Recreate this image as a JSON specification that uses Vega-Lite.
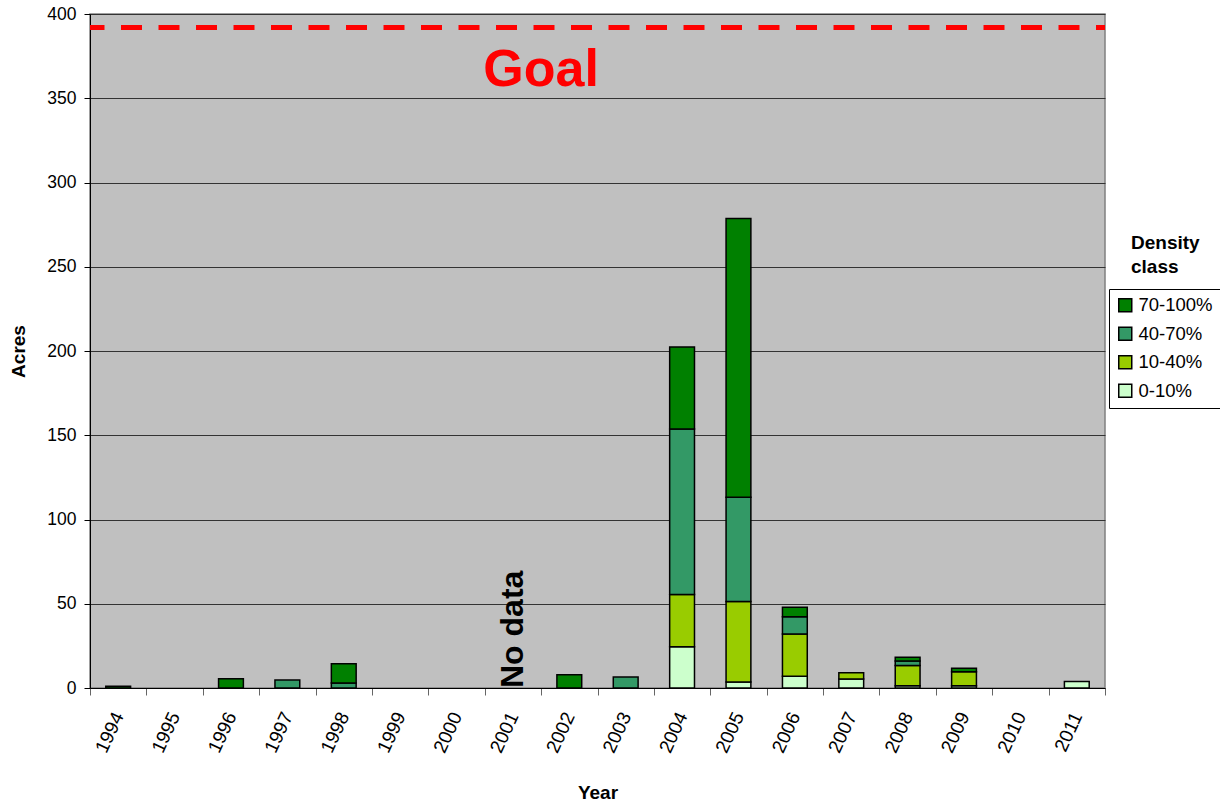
{
  "$schema": "https://vega.github.io/schema/vega-lite/v6.json",
  "width": 1015,
  "height": 674,
  "autosize": {"type": "none"},
  "padding": {"left": 90, "top": 14, "right": 115, "bottom": 117},
  "background": "white",
  "config": {
    "font": "Liberation Sans",
    "view": {"fill": "#C0C0C0", "stroke": "#808080", "strokeWidth": 1.5}
  },
  "title": {
    "text": ["Density", "class"],
    "orient": "top",
    "anchor": "end",
    "frame": "group",
    "align": "left",
    "baseline": "top",
    "dx": 26,
    "dy": 272,
    "offset": 0,
    "fontSize": 19,
    "fontWeight": "bold",
    "lineHeight": 24,
    "color": "black"
  },
  "layer": [
    {
      "data": {
        "values": [
          {"year": "1994", "class": "70-100%", "acres": 1},
          {"year": "1996", "class": "70-100%", "acres": 5.5},
          {"year": "1997", "class": "40-70%", "acres": 4.7},
          {"year": "1998", "class": "40-70%", "acres": 3},
          {"year": "1998", "class": "70-100%", "acres": 11.4},
          {"year": "2002", "class": "70-100%", "acres": 7.8},
          {"year": "2003", "class": "40-70%", "acres": 6.5},
          {"year": "2004", "class": "0-10%", "acres": 24.5},
          {"year": "2004", "class": "10-40%", "acres": 31},
          {"year": "2004", "class": "40-70%", "acres": 98.2},
          {"year": "2004", "class": "70-100%", "acres": 48.7},
          {"year": "2005", "class": "0-10%", "acres": 3.6},
          {"year": "2005", "class": "10-40%", "acres": 47.8},
          {"year": "2005", "class": "40-70%", "acres": 61.8},
          {"year": "2005", "class": "70-100%", "acres": 165.5},
          {"year": "2006", "class": "0-10%", "acres": 7},
          {"year": "2006", "class": "10-40%", "acres": 25},
          {"year": "2006", "class": "40-70%", "acres": 10.3},
          {"year": "2006", "class": "70-100%", "acres": 5.6},
          {"year": "2007", "class": "0-10%", "acres": 5.3},
          {"year": "2007", "class": "10-40%", "acres": 3.8},
          {"year": "2008", "class": "0-10%", "acres": 1.4},
          {"year": "2008", "class": "10-40%", "acres": 11.9},
          {"year": "2008", "class": "40-70%", "acres": 2.7},
          {"year": "2008", "class": "70-100%", "acres": 2.2},
          {"year": "2009", "class": "0-10%", "acres": 1.4},
          {"year": "2009", "class": "10-40%", "acres": 8.3},
          {"year": "2009", "class": "70-100%", "acres": 2},
          {"year": "2011", "class": "0-10%", "acres": 3.8}
        ]
      },
      "mark": {"type": "bar", "stroke": "black", "strokeWidth": 1.5, "width": {"band": 0.44}},
      "encoding": {
        "x": {
          "field": "year",
          "type": "nominal",
          "title": "Year",
          "scale": {
            "domain": ["1994", "1995", "1996", "1997", "1998", "1999", "2000", "2001", "2002", "2003", "2004", "2005", "2006", "2007", "2008", "2009", "2010", "2011"],
            "paddingInner": 0,
            "paddingOuter": 0
          },
          "axis": {
            "grid": false,
            "tickBand": "extent",
            "tickSize": 7,
            "tickColor": "#666666",
            "domainColor": "black",
            "domainWidth": 1,
            "labelAngle": -65,
            "labelAlign": "right",
            "labelBaseline": "middle",
            "labelFontSize": 19,
            "labelColor": "black",
            "labelPadding": 18,
            "titleFontSize": 19,
            "titleFontWeight": "bold",
            "titleColor": "black",
            "titlePadding": 28
          }
        },
        "y": {
          "field": "acres",
          "type": "quantitative",
          "stack": "zero",
          "title": "Acres",
          "scale": {"domain": [0, 400]},
          "axis": {
            "values": [0, 50, 100, 150, 200, 250, 300, 350, 400],
            "grid": true,
            "gridColor": "#333333",
            "gridWidth": 1,
            "domainColor": "black",
            "tickColor": "black",
            "tickSize": 6,
            "labelFontSize": 17.5,
            "labelColor": "black",
            "labelPadding": 8,
            "titleFontSize": 19,
            "titleFontWeight": "bold",
            "titleColor": "black",
            "titlePadding": 18
          }
        },
        "color": {
          "field": "class",
          "type": "nominal",
          "scale": {
            "domain": ["70-100%", "40-70%", "10-40%", "0-10%"],
            "range": ["#008000", "#339966", "#99CC00", "#CCFFCC"]
          },
          "legend": {
            "title": null,
            "orient": "none",
            "legendX": 1019,
            "legendY": 275,
            "strokeColor": "black",
            "fillColor": "white",
            "padding": 7,
            "symbolType": "square",
            "symbolSize": 169,
            "symbolStrokeColor": "black",
            "symbolStrokeWidth": 1.5,
            "labelFontSize": 18.5,
            "labelColor": "black",
            "labelOffset": 4,
            "rowPadding": 8.5
          }
        },
        "order": {"field": "class", "sort": "ascending"}
      }
    },
    {
      "data": {"values": [{"goal": 392}]},
      "mark": {"type": "rule", "color": "#FF0000", "strokeWidth": 5, "strokeDash": [21, 16.5], "strokeDashOffset": 12},
      "encoding": {
        "y": {"field": "goal", "type": "quantitative", "title": "Acres"}
      }
    },
    {
      "data": {"values": [{"year": "2001", "value": 357, "label": "Goal"}]},
      "mark": {"type": "text", "color": "#FF0000", "fontSize": 52, "fontWeight": "bold", "align": "center", "baseline": "alphabetic"},
      "encoding": {
        "x": {"field": "year", "type": "nominal", "title": "Year", "bandPosition": 1},
        "y": {"field": "value", "type": "quantitative", "title": "Acres"},
        "text": {"field": "label"}
      }
    },
    {
      "data": {"values": [{"year": "2001", "value": 0, "label": "No data"}]},
      "mark": {"type": "text", "color": "black", "fontSize": 32, "fontWeight": "bold", "angle": 270, "align": "left", "baseline": "middle"},
      "encoding": {
        "x": {"field": "year", "type": "nominal", "title": "Year"},
        "y": {"field": "value", "type": "quantitative", "title": "Acres"},
        "text": {"field": "label"}
      }
    }
  ]
}
